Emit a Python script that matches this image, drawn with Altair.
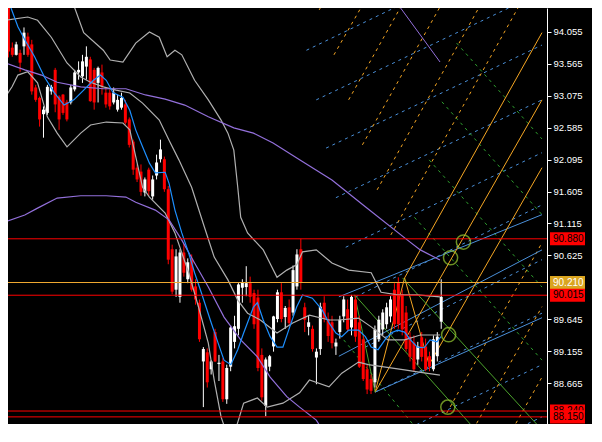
import altair as alt
import pandas as pd

# ---------------- candles (bar index 0..111) ----------------
opens = [94.50, 93.81, 93.70, 93.73, 93.83, 93.98, 93.86, 93.20, 93.04, 92.79,
         92.81, 93.14, 93.47, 93.06, 93.09, 92.98, 92.97, 93.17, 93.43, 93.37,
         93.52, 93.63, 93.47, 93.27, 93.43, 93.12, 93.12, 92.97, 92.86, 92.89,
         92.94, 92.71, 92.37, 91.97, 91.91, 91.59, 91.94, 91.53, 91.85, 92.10,
         92.10, 91.64, 90.72, 90.10, 89.99, 90.67, 90.26, 90.56, 90.15, 89.90,
         89.00, 89.14, 88.88, 89.45, 88.96, 89.00, 88.42, 88.92, 89.30, 89.50,
         90.13, 90.14, 90.20, 90.05, 89.98, 89.10, 88.32, 88.92, 89.23, 89.65,
         90.06, 89.68, 89.83, 89.75, 90.15, 90.72, 89.83, 89.53, 89.50, 89.06,
         89.19, 89.90, 89.65, 89.60, 89.23, 89.45, 89.69, 89.80, 89.52, 89.95,
         89.60, 89.34, 88.88, 88.73, 88.68, 89.34, 89.49, 89.57, 89.69, 90.10,
         90.21, 90.03, 89.75, 89.38, 89.29, 89.03, 89.37, 89.23, 89.08, 88.88,
         89.08, 89.61]
highs = [94.55, 93.89, 93.90, 93.78, 94.12, 94.04, 93.93, 93.24, 93.06, 92.91,
         93.24, 93.24, 93.50, 93.08, 93.10, 93.01, 93.24, 93.47, 93.60, 93.70,
         93.83, 93.67, 93.50, 93.52, 93.55, 93.20, 93.17, 93.20, 93.09, 93.12,
         93.01, 92.74, 92.40, 92.02, 92.02, 91.82, 91.97, 91.85, 92.17, 92.40,
         92.14, 91.69, 90.79, 90.72, 90.72, 90.80, 90.58, 90.64, 90.26, 89.95,
         89.22, 89.20, 89.02, 89.50, 89.10, 89.05, 88.95, 89.55, 89.70, 90.20,
         90.26, 90.46, 90.30, 90.10, 90.10, 89.20, 89.06, 89.10, 89.70, 90.10,
         90.20, 89.85, 89.95, 90.47, 90.72, 90.88, 89.90, 89.70, 89.55, 89.20,
         89.90, 90.00, 89.75, 89.70, 89.35, 89.70, 90.00, 89.95, 90.02, 90.00,
         89.70, 89.40, 88.95, 88.80, 89.55, 89.70, 89.80, 89.90, 90.00, 90.20,
         90.29, 90.10, 89.85, 89.45, 89.40, 89.30, 89.45, 89.35, 89.15, 89.40,
         89.45, 90.26]
lows = [93.66, 93.67, 93.69, 93.44, 93.70, 93.67, 93.09, 92.98, 92.60, 92.43,
        92.78, 93.09, 92.82, 92.55, 92.78, 92.68, 92.94, 93.14, 93.32, 93.27,
        93.32, 92.98, 92.86, 92.97, 93.09, 92.89, 92.86, 92.94, 92.83, 92.86,
        92.63, 92.28, 91.86, 91.75, 91.54, 91.53, 91.54, 91.48, 91.79, 92.05,
        91.60, 90.49, 90.03, 89.99, 89.90, 90.30, 90.20, 90.07, 89.87, 89.30,
        88.30, 88.60, 88.80, 88.99, 88.70, 88.38, 88.35, 88.85, 89.20, 89.40,
        89.90, 90.00, 89.90, 89.50, 88.85, 88.40, 88.16, 88.85, 89.15, 89.60,
        89.60, 89.50, 89.55, 89.70, 90.10, 90.10, 89.45, 89.40, 89.15, 88.65,
        89.10, 89.60, 89.30, 89.20, 89.10, 89.35, 89.60, 89.45, 89.40, 89.30,
        88.90, 88.70, 88.50, 88.50, 88.60, 89.30, 89.40, 89.50, 89.60, 89.50,
        89.50, 89.40, 89.15, 89.00, 88.85, 88.95, 89.00, 88.85, 88.85, 88.85,
        89.00, 89.50]
closes = [93.75, 93.70, 93.86, 93.58, 94.04, 93.70, 93.14, 93.01, 92.71, 92.86,
          93.21, 93.21, 92.94, 92.71, 92.81, 92.71, 93.20, 93.43, 93.47, 93.60,
          93.67, 92.99, 92.97, 93.50, 93.21, 92.94, 92.91, 93.12, 93.01, 93.04,
          92.66, 92.32, 91.94, 91.79, 91.60, 91.79, 91.61, 91.79, 92.05, 92.25,
          91.64, 90.56, 90.07, 90.61, 90.67, 90.36, 90.52, 90.10, 89.95, 89.34,
          89.19, 88.68, 89.00, 89.00, 88.98, 88.42, 88.90, 89.52, 89.54, 90.18,
          90.21, 90.20, 89.99, 89.57, 88.90, 88.45, 89.03, 89.08, 89.69, 90.06,
          89.65, 89.82, 89.59, 90.40, 90.64, 90.21, 89.64, 89.60, 89.19, 89.15,
          89.84, 89.65, 89.39, 89.28, 89.29, 89.64, 89.95, 89.49, 89.99, 89.38,
          88.92, 88.73, 88.57, 88.55, 89.49, 89.64, 89.75, 89.83, 89.95, 89.57,
          89.57, 89.49, 89.19, 89.07, 88.88, 89.23, 89.07, 88.88, 88.92, 89.34,
          89.38, 89.99]

# ---------------- indicator traces (bar index, price) ----------------
ma_fast_i = [-0.08, 2.44, 4.20, 6.72, 9.24, 11.75, 14.27, 16.79, 19.31, 21.82, 23.58, 25.10,
             26.86, 29.37, 31.13, 32.65, 34.41, 36.17, 37.68, 40.20, 41.20, 42.71, 44.47,
             46.24, 47.75, 49.51, 52.03, 53.79, 55.30, 57.06, 58.82, 60.33, 62.85, 63.86,
             65.36, 67.13, 68.89, 70.40, 72.16, 73.92, 75.43, 77.95, 80.47, 82.23, 83.99,
             85.50, 87.26, 89.78, 91.54, 93.05, 94.81, 96.58, 98.09, 99.85, 101.61, 103.12,
             104.88, 106.64, 108.15, 109.91, 110.92]
ma_fast_p = [94.54, 94.13, 93.93, 93.67, 93.36, 93.12, 92.93, 93.01, 93.16, 93.31, 93.39, 93.31,
             93.12, 93.05, 92.85, 92.55, 92.29, 92.04, 91.89, 91.90, 91.73, 91.32, 90.97,
             90.66, 90.36, 90.05, 89.59, 89.28, 89.02, 88.95, 89.18, 89.435, 89.835, 89.90,
             89.635, 89.38, 89.22, 89.22, 89.53, 89.835, 90.02, 89.97, 89.79, 89.59, 89.435,
             89.38, 89.48, 89.48, 89.38, 89.22, 89.18, 89.33, 89.435, 89.48, 89.45, 89.33,
             89.22, 89.21, 89.33, 89.30, 89.38]
bb_upper_i = [12.99, 16.28, 19.31, 24.34, 26.10, 29.37, 32.65, 36.17, 38.69, 40.70, 42.71, 44.47,
              47.75, 51.27, 54.54, 56.30, 57.81, 58.82, 59.58, 61.34, 65.36, 68.89, 71.40,
              73.92, 75.43, 78.96, 82.98, 87.26, 93.05, 95.57, 99.85, 104.88, 110.67]
bb_upper_p = [94.92, 94.54, 94.04, 93.77, 93.62, 93.59, 93.88, 94.05, 93.97, 93.67, 93.77, 93.70,
              93.31, 93.01, 92.70, 92.50, 92.24, 91.67, 91.21, 90.97, 90.71, 90.29, 90.40,
              90.48, 90.68, 90.71, 90.51, 90.40, 90.36, 90.06, 90.02, 90.02, 89.99]
bb_mid_i = [-0.83, 4.96, 7.48, 11.0, 15.03, 18.55, 21.07, 24.34, 27.61, 31.13, 34.41, 38.69,
            41.2, 43.72, 46.99, 50.26, 52.78, 56.30, 58.82, 61.34, 64.61, 68.89, 72.92,
            77.20, 82.23, 84.75, 89.78, 93.05, 97.33, 101.61, 105.64, 110.67]
bb_mid_p = [94.23, 94.28, 94.23, 93.97, 93.575, 93.36, 93.28, 93.21, 93.16, 93.115, 92.96, 92.70,
            92.39, 92.09, 91.67, 91.06, 90.60, 90.25, 89.94, 89.74, 89.635, 89.435, 89.59,
            89.71, 89.635, 89.635, 89.665, 89.53, 89.33, 89.33, 89.405, 89.405]
bb_lower_i = [-0.83, 0.93, 2.44, 4.96, 7.48, 9.99, 12.51, 15.03, 18.55, 21.07, 25.10, 29.37,
              31.13, 34.41, 36.17, 40.20, 42.71, 46.24, 48.76, 51.27, 52.78, 54.54, 56.30,
              57.81, 60.33, 63.86, 66.37, 70.40, 74.68, 77.20, 82.23, 85.50, 89.78, 92.29,
              101.61, 104.88, 110.67]
bb_lower_p = [93.05, 93.21, 93.39, 93.44, 93.27, 92.75, 92.50, 92.29, 92.50, 92.625, 92.67, 92.655,
              92.55, 91.67, 91.52, 91.275, 90.97, 90.36, 89.835, 89.28, 88.715, 88.15, 87.84,
              87.87, 88.36, 88.44, 88.30, 88.36, 88.52, 88.715, 88.61, 88.82, 88.99, 88.95,
              88.87, 88.84, 88.79]
ma_slow_i = [-0.83, 4.20, 8.48, 12.51, 18.55, 24.34, 30.13, 35.16, 40.20, 45.23, 51.27, 57.81,
             62.85, 67.88, 74.68, 82.98, 91.54, 102.36, 105.64, 110.67]
ma_slow_p = [93.575, 93.47, 93.39, 93.28, 93.21, 93.18, 93.18, 93.085, 93.02, 92.93, 92.75, 92.58,
             92.50, 92.35, 92.09, 91.78, 91.37, 90.86, 90.71, 90.555]
env_lower_i = [-0.83, 4.20, 7.48, 12.51, 18.55, 25.10, 30.13, 32.65, 37.68, 41.20, 44.47, 47.75,
               51.27, 55.30, 59.58, 63.86, 67.13, 71.40, 74.68, 78.96, 82.98]
env_lower_p = [91.14, 91.245, 91.35, 91.505, 91.54, 91.54, 91.52, 91.44, 91.32, 91.17, 90.86, 90.51,
               90.14, 89.68, 89.33, 89.07, 88.76, 88.46, 88.30, 88.10, 87.72]

# ---------------- horizontal levels & axis ticks ----------------
red_levels = [90.880, 90.015, 88.240, 88.150]
orange_levels = [90.210]
label_order = [90.880, 90.210, 90.015, 88.240, 88.150]
axis_ticks = [88.665, 89.155, 89.645, 90.625, 91.115, 91.605,
              92.095, 92.585, 93.075, 93.565, 94.055]

# ---------------- drawn objects: segments (index1, price1, index2, price2) ----------------
blue_dashed = [(76.44, 93.77, 103.12, 94.54), (78.96, 93.01, 132.57, 94.54),
               (81.47, 92.27, 136.85, 93.85), (83.99, 91.51, 136.85, 93.01),
               (86.51, 90.75, 136.85, 92.20), (89.03, 89.99, 136.85, 91.40),
               (91.54, 89.22, 136.85, 90.56), (94.06, 88.53, 136.85, 89.74),
               (96.58, 87.80, 136.85, 88.95), (123.5, 87.77, 136.85, 88.15)]
blue_solid = [(84.75, 89.99, 136.85, 91.25), (84.75, 89.08, 136.85, 90.71),
              (94.06, 88.53, 136.85, 89.67)]
orange_dashed = [(79.71, 94.39, 81.22, 94.54), (83.49, 93.70, 91.54, 94.54),
                 (87.26, 93.01, 101.61, 94.54), (90.79, 92.32, 111.68, 94.54),
                 (94.56, 91.63, 121.75, 94.54), (98.09, 90.94, 131.81, 94.54),
                 (112.43, 88.21, 136.85, 90.82), (117.46, 87.77, 136.85, 89.84),
                 (127.5, 87.77, 136.85, 88.76)]
orange_solid = [(101.61, 90.28, 136.85, 94.04), (94.06, 88.53, 136.85, 93.01),
                (107.90, 88.95, 136.85, 91.97), (94.06, 88.53, 101.61, 90.28),
                (101.61, 90.28, 107.90, 88.95)]
green_dashed = [(114.95, 93.88, 136.85, 92.41), (111.18, 92.98, 136.85, 91.25),
                (107.90, 92.09, 136.85, 90.14), (104.13, 91.21, 136.85, 89.02),
                (86.0, 89.33, 107.4, 87.77)]
green_solid = [(88.8, 90.02, 122.5, 87.77), (101.1, 90.28, 136.85, 87.95),
               (88.8, 90.02, 94.06, 88.53)]
purple_solid = [(99.1, 94.54, 110.7, 93.59)]

circle_i = [116.7, 113.4, 112.9, 112.7]
circle_p = [90.83, 90.59, 89.41, 88.30]

# ---------------- frames ----------------
candles = pd.DataFrame({"i": list(range(len(opens))), "open": opens, "high": highs,
                        "low": lows, "close": closes})
up_mask = [c >= o for o, c in zip(opens, closes)]
candles_up = candles[up_mask]
candles_dn = candles[[not m for m in up_mask]]


def trace_frame(xs, ps):
    return pd.DataFrame({"i": xs, "p": ps})


def seg_frame(lst):
    return pd.DataFrame([{"id": k, "i1": a, "p1": b, "i2": c, "p2": d}
                         for k, (a, b, c, d) in enumerate(lst)])


levels_red = pd.DataFrame({"price": red_levels})
levels_orange = pd.DataFrame({"price": orange_levels})
circles = pd.DataFrame({"i": circle_i, "p": circle_p})

# ---------------- scales / axis ----------------
XS = alt.Scale(domain=[1.18, 136.85], nice=False, zero=False)
YS = alt.Scale(domain=[88.041, 94.418], nice=False, zero=False)

YAXIS = alt.Axis(orient="right", values=axis_ticks, format=".3f", labelColor="#FFFFFF",
                 tickColor="#FFFFFF", domainColor="#FFFFFF", tickSize=4, labelPadding=2,
                 labelFont="Liberation Sans", labelFontSize=9.5, grid=False, title=None,
                 labelOverlap=False, labelFlush=False, labelBound=False,
                 domainWidth=1, tickWidth=1)


def X(f):
    return alt.X(f"{f}:Q", scale=XS, axis=None)


def Y(f):
    return alt.Y(f"{f}:Q", scale=YS, axis=YAXIS)


layers = []


def seg_layer(lst, color, dashed):
    kw = dict(strokeWidth=1, clip=True, color=color)
    if dashed:
        kw["strokeDash"] = [3, 4]
    return alt.Chart(seg_frame(lst)).mark_rule(**kw).encode(
        x=X("i1"), x2="i2:Q", y=Y("p1"), y2="p2:Q")


layers += [seg_layer(blue_dashed, "#4A8FD8", True),
           seg_layer(orange_dashed, "#F5A623", True),
           seg_layer(green_dashed, "#2E9E2E", True),
           seg_layer(blue_solid, "#4A8FD8", False),
           seg_layer(orange_solid, "#F5A623", False),
           seg_layer(green_solid, "#4CA32C", False),
           seg_layer(purple_solid, "#9370DB", False)]

for df, col in [(candles_dn, "#FF0000"), (candles_up, "#FFFFFF")]:
    layers.append(alt.Chart(df).mark_rule(strokeWidth=1, clip=True, color=col).encode(
        x=X("i"), y=Y("low"), y2="high:Q"))
    layers.append(alt.Chart(df).mark_bar(size=3, clip=True, color=col).encode(
        x=X("i"), y=Y("open"), y2="close:Q"))

for xs, ps, col in [(bb_upper_i, bb_upper_p, "#B0B0B0"), (bb_mid_i, bb_mid_p, "#B0B0B0"),
                    (bb_lower_i, bb_lower_p, "#B0B0B0"), (ma_slow_i, ma_slow_p, "#9370DB"),
                    (env_lower_i, env_lower_p, "#9370DB"), (ma_fast_i, ma_fast_p, "#1E90FF")]:
    layers.append(alt.Chart(trace_frame(xs, ps)).mark_line(strokeWidth=1.2, clip=True,
                                                           color=col).encode(
        x=X("i"), y=Y("p")))

layers.append(alt.Chart(levels_red).mark_rule(strokeWidth=1, color="#FF0000").encode(y=Y("price")))
layers.append(alt.Chart(levels_orange).mark_rule(strokeWidth=1, color="#F0A830").encode(
    y=Y("price")))

layers.append(alt.Chart(circles).mark_point(shape="circle", filled=False, size=200,
                                            strokeWidth=1.5, color="#9ACD32",
                                            clip=True).encode(x=X("i"), y=Y("p")))

for price in label_order:
    is_orange = price in orange_levels
    df = pd.DataFrame({"price": [price]})
    layers.append(alt.Chart(df).transform_calculate(
        hi="datum.price + 0.1", lo="datum.price - 0.1"
    ).mark_rect(color="#DAA520" if is_orange else "#FF0000").encode(
        y=Y("hi"), y2="lo:Q", x=alt.value(542), x2=alt.value(577)))
    layers.append(alt.Chart(df).mark_text(align="left", baseline="middle",
                                          font="Liberation Sans", fontSize=10,
                                          color="#FFFFFF" if is_orange else "#000000").encode(
        y=Y("price"), x=alt.value(545), text=alt.Text("price:Q", format=".3f")))

chart = alt.layer(*layers).properties(
    width=539, height=416, background="#000000",
    padding={"left": 0, "top": 0, "right": 45, "bottom": 0},
    autosize=alt.AutoSizeParams(type="none"),
).configure_view(stroke="transparent")

chart.save("out.html", embed_options={"renderer": "svg", "actions": False})
